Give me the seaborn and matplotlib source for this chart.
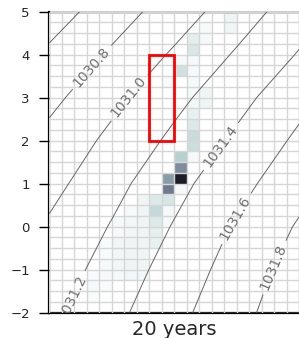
import numpy as np
import matplotlib
matplotlib.use("Agg")
import matplotlib.pyplot as plt
from matplotlib.patches import Rectangle
import seaborn as sns

# 2D histogram cells: column index, lower y edge, relative count
hist_col = [14, 14, 12, 12, 11, 11, 11, 11, 11, 10, 10, 9,
            12, 12, 11, 11, 11, 11, 11, 11, 10, 11,
            10, 10, 10,
            9, 9, 9, 9, 9,
            8, 8, 8, 8, 8,
            7, 7, 7, 7, 7, 7, 7, 7,
            6, 6, 6, 6, 6, 6, 6,
            5, 5, 5, 5, 5, 5,
            4, 4, 4, 4, 4,
            3, 3, 3]
hist_y = [4.75, 4.5, 4.5, 4.25, 4.25, 4.0, 3.75, 3.5, 3.25, 3.75, 3.5, 3.25,
          3.0, 2.75, 3.0, 2.75, 2.5, 2.25, 2.0, 1.75, 1.5, 1.5,
          1.25, 1.0, 0.75,
          1.0, 0.75, 0.5, 0.25, 0.0,
          0.5, 0.25, 0.0, -0.25, -0.5,
          0.5, 0.25, 0.0, -0.25, -0.5, -0.75, -1.0, -1.25,
          0.25, 0.0, -0.25, -0.5, -0.75, -1.0, -1.25,
          0.0, -0.25, -0.5, -0.75, -1.0, -1.25,
          -0.5, -0.75, -1.0, -1.25, -1.5,
          -1.25, -1.5, -1.75]
hist_val = [0.05, 0.05, 0.03, 0.03, 0.08, 0.11, 0.03, 0.03, 0.03, 0.03, 0.14, 0.02,
            0.05, 0.05, 0.03, 0.04, 0.07, 0.10, 0.16, 0.15, 0.21, 0.03,
            0.44, 0.87, 0.03,
            0.39, 0.50, 0.12, 0.03, 0.03,
            0.10, 0.17, 0.10, 0.08, 0.07,
            0.05, 0.05, 0.05, 0.05, 0.05, 0.05, 0.05, 0.04,
            0.03, 0.04, 0.04, 0.05, 0.05, 0.05, 0.04,
            0.03, 0.03, 0.04, 0.04, 0.04, 0.03,
            0.02, 0.02, 0.03, 0.03, 0.02,
            0.02, 0.03, 0.02]

# background pressure field (hPa) read on a coarse grid
press_x = [0, 5, 10, 15, 20]
press_y = [-2, -1, 0, 1, 2, 3, 4, 5]
pressure = [
    [1031.152, 1031.344, 1031.543, 1031.738, 1031.936],
    [1031.086, 1031.283, 1031.481, 1031.687, 1031.888],
    [1031.027, 1031.213, 1031.414, 1031.624, 1031.822],
    [1030.938, 1031.139, 1031.338, 1031.537, 1031.731],
    [1030.859, 1031.046, 1031.244, 1031.438, 1031.640],
    [1030.748, 1030.950, 1031.145, 1031.336, 1031.540],
    [1030.636, 1030.829, 1031.027, 1031.222, 1031.415],
    [1030.504, 1030.702, 1030.900, 1031.104, 1031.304],
]
levels = [1030.6, 1030.8, 1031.0, 1031.2, 1031.4, 1031.6, 1031.8]
label_pos = [(3.4, 3.71), (6.3, 3.02), (1.8, -1.63), (13.8, 1.85),
             (14.7, 0.23), (17.9, -0.94)]

yticks = [-2, -1, 0, 1, 2, 3, 4, 5]
box = (8, 2, 2, 2)  # x, y, width, height of the red box
xlabel = "20 years"

sns.set_style("ticks")

fig = plt.figure(figsize=(2.99, 3.38), dpi=100)
ax = fig.add_axes([49.3 / 299, 25.3 / 338, 250.2 / 299, 301.0 / 338])

x_edges = np.arange(0, 21)
y_edges = np.arange(-2, 5.001, 0.25)
sns.histplot(x=np.array(hist_col) + 0.5, y=np.array(hist_y) + 0.125,
             weights=hist_val, bins=[x_edges, y_edges], cmap="bone_r",
             vmin=0, vmax=1, ax=ax, zorder=1)

cs = ax.contour(press_x, press_y, pressure, levels=levels,
                colors="#666666", linewidths=0.7, zorder=3)
texts = ax.clabel(cs, manual=label_pos, fmt="%.1f",
                  fontsize=10, colors="#707070", inline=True)
for t in texts:
    t.set_clip_on(True)

ax.add_patch(Rectangle(box[:2], box[2], box[3], fill=False,
                       edgecolor="red", linewidth=2, zorder=4))

ax.set_xlim(0, 20)
ax.set_ylim(-2, 5)
ax.set_xticks(x_edges)
ax.set_xticklabels([])
ax.set_yticks(yticks)
ax.set_yticks(y_edges, minor=True)
ax.tick_params(axis="x", length=0)
ax.tick_params(axis="y", which="major", length=7, width=1, pad=7,
               labelsize=9.5, color="black")
ax.tick_params(axis="y", which="minor", length=0)
ax.set_axisbelow(False)
ax.grid(True, which="both", color="#d6d6d6", linewidth=1.0, zorder=2.5)
ax.set_xlabel(xlabel, fontsize=14, labelpad=2)
ax.set_ylabel("")
for side in ["left", "bottom"]:
    ax.spines[side].set_linewidth(1.6)
    ax.spines[side].set_color("black")
ax.spines["top"].set_linewidth(1.0)
ax.spines["top"].set_color("black")
ax.spines["right"].set_visible(True)

fig.savefig("out.png", dpi=100)
